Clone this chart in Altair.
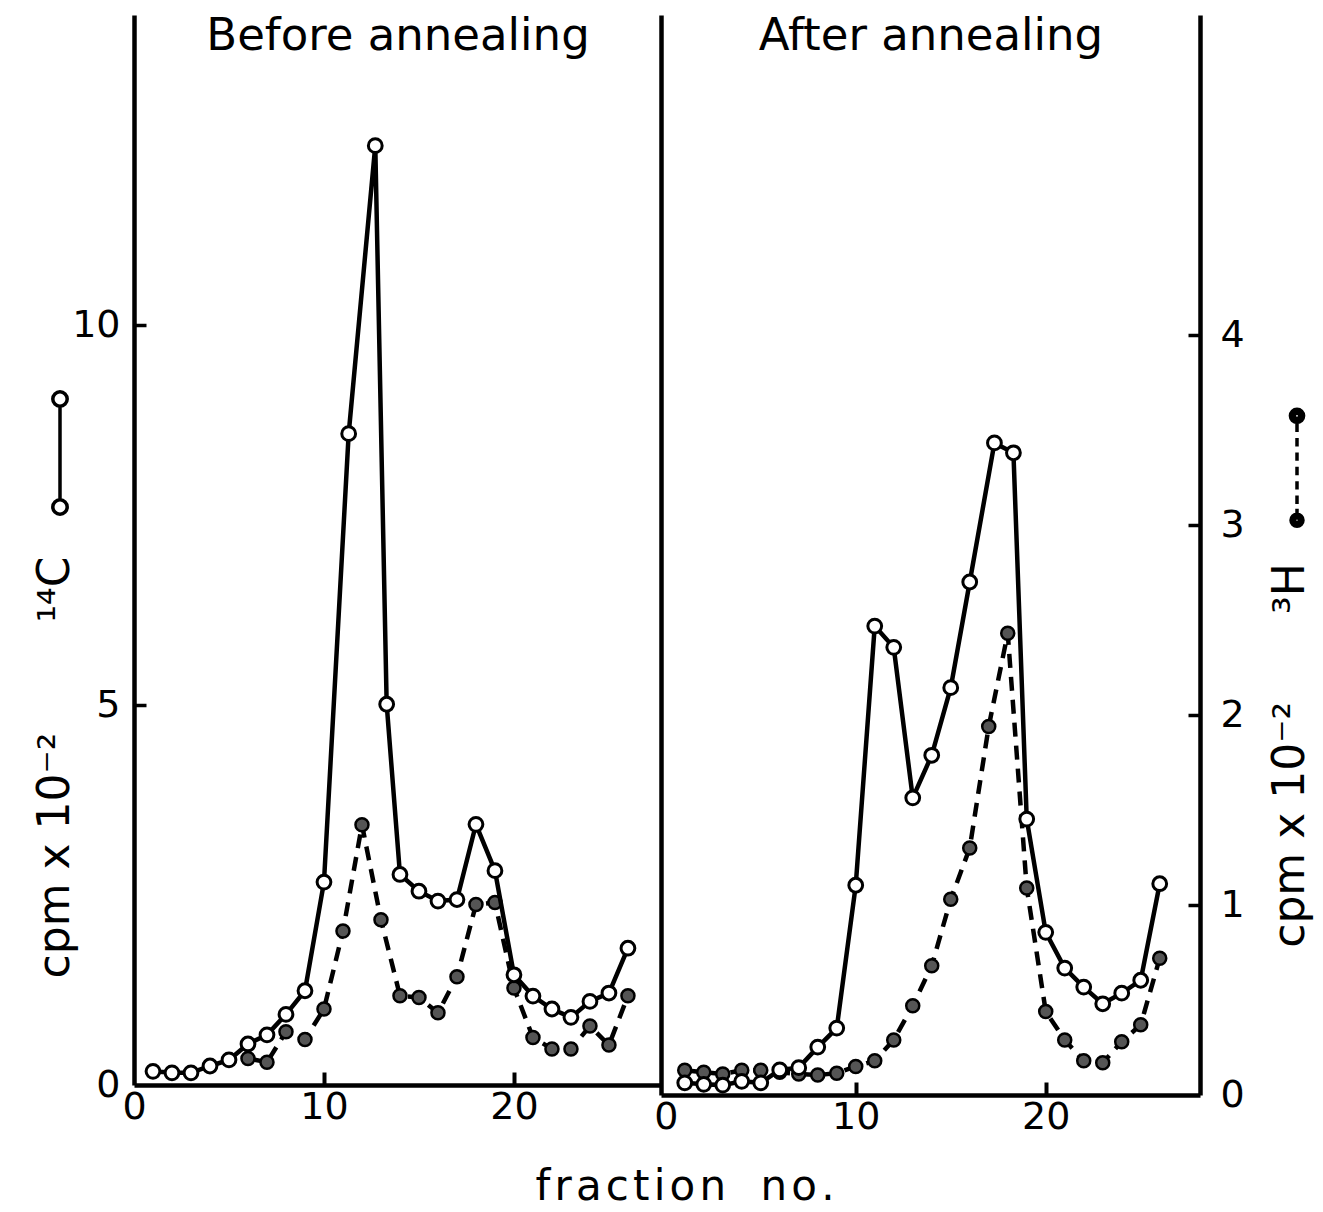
import altair as alt
import pandas as pd

FONT = "DejaVu Sans"
HS = "\u200a"  # hair space, to mimic the wide letter spacing of the original
EM, EN = "\u2003", "\u2002"

# ---------------- data ----------------
panel_titles = ["Before annealing", "After annealing"]
x_title = HS.join("fraction") + " " + EN + HS.join("no.")
c14_title = "cpm x 10\u207b\u00b2" + EM + EM + EN + "\u00b9\u2074C"
h3_title = "cpm x 10\u207b\u00b2" + EM + EM + "\u00b3H"

frac_ticks = [0, 10, 20]
c14_ticks = [0, 5, 10]
h3_ticks = [0, 1, 2, 3, 4]

# Before annealing
before_c14_frac = [1, 2, 3, 4, 5, 6, 7, 8, 9, 10, 11.3, 12.7, 13.3, 14, 15, 16, 17,
                   18, 19, 20, 21, 22, 23, 24, 25, 26]
before_c14 = [0.18, 0.16, 0.16, 0.25, 0.33, 0.54, 0.66, 0.93, 1.24, 2.67, 8.57, 12.36,
              5.01, 2.77, 2.55, 2.42, 2.44, 3.43, 2.82, 1.45, 1.17, 1.00, 0.89, 1.10,
              1.21, 1.80]
before_h3_frac = [6, 7, 8, 9, 10, 11, 12, 13, 14, 15, 16, 17, 18, 19, 20, 21, 22, 23,
                  24, 25, 26]
before_h3 = [0.14, 0.12, 0.28, 0.24, 0.40, 0.81, 1.37, 0.87, 0.47, 0.46, 0.38, 0.57,
             0.95, 0.96, 0.51, 0.25, 0.19, 0.19, 0.31, 0.21, 0.47]

# After annealing
after_c14_frac = [1, 2, 3, 4, 5, 6, 7, 8, 9, 10, 11, 12, 13, 14, 15, 16, 17.3, 18.3,
                  19, 20, 21, 22, 23, 24, 25, 26]
after_c14 = [0.16, 0.14, 0.13, 0.18, 0.16, 0.33, 0.36, 0.63, 0.88, 2.76, 6.17, 5.89,
             3.91, 4.47, 5.36, 6.75, 8.58, 8.45, 3.63, 2.14, 1.67, 1.42, 1.20, 1.34,
             1.51, 2.78]
after_h3_frac = [1, 2, 3, 4, 5, 6, 7, 8, 9, 10, 11, 12, 13, 14, 15, 16, 17, 18, 19, 20,
                 21, 22, 23, 24, 25, 26]
after_h3 = [0.13, 0.12, 0.11, 0.13, 0.13, 0.12, 0.11, 0.105, 0.115, 0.15, 0.18, 0.29,
            0.47, 0.68, 1.03, 1.30, 1.94, 2.43, 1.09, 0.44, 0.29, 0.18, 0.17, 0.28,
            0.37, 0.72]


def _circle(cx, cy, r):
    return ("M{a} {cy}A{r} {r} 0 1 1 {b} {cy}A{r} {r} 0 1 1 {a} {cy}Z"
            .format(a=round(cx + r, 3), b=round(cx - r, 3), cy=cy, r=r))


def _dot(cx, cy, r):
    # solid dot drawn as concentric rings (legend symbols are stroked)
    return "".join(_circle(cx, cy, round(r * k, 3)) for k in (1.0, 0.7, 0.4, 0.12))


# legend key glyphs (custom symbol paths in the -1..1 unit box, drawn off-centre)
KEY_14C = "M-0.6 -0.78L-0.6 0.78" + _circle(-0.6, -0.9, 0.12) + _circle(-0.6, 0.9, 0.12)
KEY_3H = ("M0.7 -0.74L0.7 -0.6M0.7 -0.5L0.7 -0.36M0.7 -0.26L0.7 -0.12M0.7 -0.02L0.7 0.12"
          "M0.7 0.22L0.7 0.36M0.7 0.46L0.7 0.6M0.7 0.68L0.7 0.76"
          + _dot(0.7, -0.87, 0.11) + _dot(0.7, 0.87, 0.1))

H3_FILL = "#555555"


def panel(c14_frac, c14_vals, h3_frac, h3_vals, title, xdom, w, h, left):
    y14dom = [0, h / 76.0]
    y3dom = [0, h / 190.0]
    df14 = pd.DataFrame({"frac": c14_frac, "cpm": c14_vals, "key": "14C"})
    df3 = pd.DataFrame({"frac": h3_frac, "cpm": h3_vals, "key": "3H"})
    xs = alt.Scale(domain=xdom, nice=False, zero=False)

    # 14C series (solid line, open circles)
    if left:
        y14axis = alt.Axis(orient="left", values=c14_ticks, ticks=False, labelPadding=14,
                           title=c14_title, titleAngle=270, titleX=-79, titleY=752,
                           titleAlign="center", titleBaseline="middle", grid=False)
    else:
        y14axis = alt.Axis(orient="left", labels=False, ticks=False, title=None,
                           grid=False, domain=True)
    base14 = alt.Chart(df14).encode(
        x=alt.X("frac:Q", scale=xs,
                axis=alt.Axis(orient="bottom", values=frac_ticks, ticks=False,
                              labelFlush=False, labelPadding=3, title=None, grid=False)),
        y=alt.Y("cpm:Q", scale=alt.Scale(domain=y14dom, nice=False, zero=False),
                axis=y14axis),
    )
    c14 = alt.layer(
        base14.mark_line(color="black", strokeWidth=4.5),
        base14.mark_point(shape="circle", filled=True, fill="white", stroke="black",
                          strokeWidth=3, size=190, opacity=1),
    )

    # 3H series (dashed line, shaded circles); its top axis carries the panel title
    if left:
        y3axis = None
    else:
        y3axis = alt.Axis(orient="right", values=h3_ticks, ticks=False, labelPadding=20,
                          title=h3_title, titleAngle=270, titleX=90, titleY=740,
                          titleAlign="center", titleBaseline="middle", grid=False)
    base3 = alt.Chart(df3).encode(
        x=alt.X("frac:Q", scale=xs,
                axis=alt.Axis(orient="top", labels=False, ticks=False, domain=False,
                              grid=False, title=title, titleFontSize=45,
                              titleX=w / 2, titleY=34, titleAlign="center",
                              titleBaseline="alphabetic", titleAngle=0)),
        y=alt.Y("cpm:Q", scale=alt.Scale(domain=y3dom, nice=False, zero=False),
                axis=y3axis),
    )
    h3 = alt.layer(
        base3.mark_line(color="black", strokeWidth=4.5, strokeDash=[14, 9]),
        base3.mark_point(shape="circle", filled=True, fill=H3_FILL, stroke="black",
                         strokeWidth=2.5, size=170, opacity=1),
    )

    # inward ticks + legend key (invisible points)
    if left:
        tk_df, ydom, yvals, yorient = df14, y14dom, [5, 10], "left"
        key, path, lx, ly = "14C", KEY_14C, -100, 376
    else:
        tk_df, ydom, yvals, yorient = df3, y3dom, [1, 2, 3, 4], "right"
        key, path, lx, ly = "3H", KEY_3H, 532, 391
    tk = alt.Chart(tk_df).mark_point(size=0, color="black", strokeWidth=3.5,
                                      opacity=1).encode(
        x=alt.X("frac:Q", scale=xs,
                axis=alt.Axis(orient="bottom", values=[10, 20], labels=False,
                              domain=False, ticks=True, tickSize=13, offset=-13,
                              tickColor="black", tickWidth=4, title=None, grid=False)),
        y=alt.Y("cpm:Q", scale=alt.Scale(domain=ydom, nice=False, zero=False),
                axis=alt.Axis(orient=yorient, values=yvals, labels=False, domain=False,
                              ticks=True, tickSize=12, offset=-12, title=None,
                              grid=False)),
        shape=alt.Shape("key:N", scale=alt.Scale(domain=[key], range=[path]),
                        legend=alt.Legend(orient="none", legendX=lx, legendY=ly,
                                          title=None, labelExpr="''", symbolSize=14400,
                                          symbolStrokeWidth=3.5, padding=0,
                                          symbolOffset=0, labelOffset=0)),
    )

    return alt.layer(h3, c14, tk).resolve_scale(
        x="independent", y="independent", shape="independent"
    ).properties(width=w, height=h)


left = panel(before_c14_frac, before_c14, before_h3_frac, before_h3, panel_titles[0],
             [0, 27.74], 527, 1070, True)
right = panel(after_c14_frac, after_c14, after_h3_frac, after_h3, panel_titles[1],
              [-0.25, 28.12], 539, 1080, False)

chart = alt.hconcat(left, right, spacing=0, bounds="flush").resolve_scale(
    x="independent", y="independent", shape="independent"
).resolve_legend(shape="independent").properties(
    title=alt.TitleParams(text=x_title, orient="bottom", anchor="middle", font=FONT,
                          fontSize=42, fontWeight="normal", offset=64, dx=10,
                          baseline="alphabetic", color="black"),
    padding={"left": 33, "top": 13, "right": 2, "bottom": 4},
    background="white",
).configure_axis(
    labelFont=FONT, labelFontSize=38, labelColor="black", domainColor="black",
    domainWidth=4.5, tickColor="black", tickWidth=3.5, titleFont=FONT,
    titleFontSize=44, titleFontWeight="normal", titleColor="black", grid=False,
).configure_view(stroke=None)

chart.save("out.html", embed_options={"renderer": "svg", "actions": False})
